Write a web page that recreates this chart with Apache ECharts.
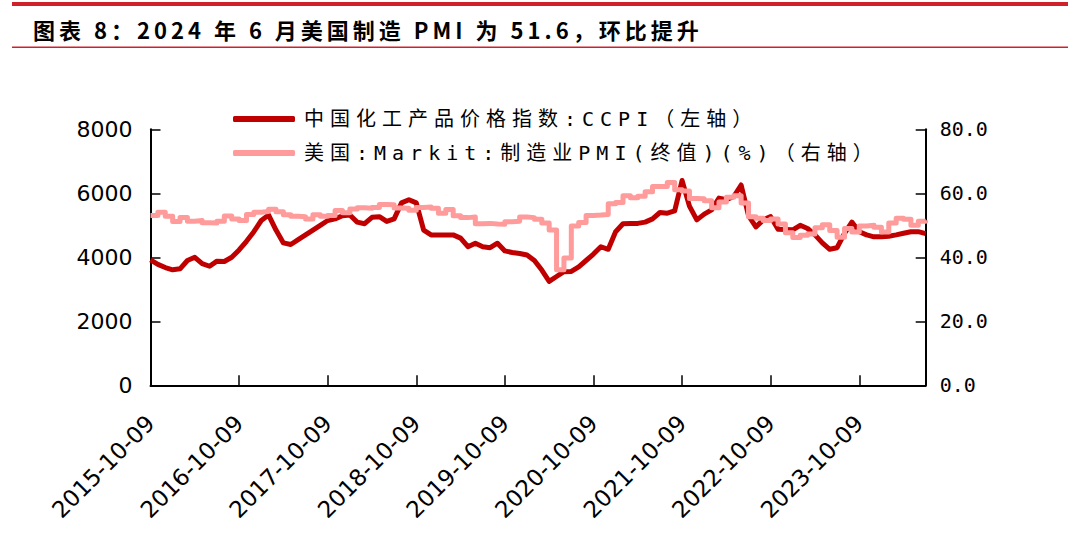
<!DOCTYPE html>
<html>
<head>
<meta charset="utf-8">
<script src="https://cdn.jsdelivr.net/npm/echarts@6/dist/echarts.min.js"></script>
<style>
  html, body { margin: 0; padding: 0; background: #fff; }
  #main { width: 1080px; height: 540px; }
  /* the source chart sets its Chinese text with wide letter spacing */
  #main svg text[fill="#000001"], #main svg text[fill="rgb(0,0,1)"] { letter-spacing: 4px; }
  #main svg text[fill="#010101"], #main svg text[fill="rgb(1,1,1)"] { letter-spacing: 6px; }
</style>
</head>
<body>
<div id="main"></div>
<script>
// monthly axis: 2015-10 .. 2024-07, one category per month (the 9th)
var startYear = 2015, startMonth = 10, monthCount = 106;
var categories = [];
for (var i = 0; i < monthCount; i++) {
  var mm = startMonth - 1 + i;
  var y = startYear + Math.floor(mm / 12);
  var m = (mm % 12) + 1;
  categories.push(y + '-' + (m < 10 ? '0' + m : m) + '-09');
}

// 中国化工产品价格指数 CCPI (left axis)
var ccpi = [
  3920, 3780, 3680, 3610, 3640, 3900, 4000, 3800, 3720, 3880, 3870, 4000,   // 2015-10 .. 2016-09
  4230, 4500, 4800, 5150, 5320, 4850, 4450, 4400, 4550, 4700, 4850, 5000,   // 2016-10 .. 2017-09
  5150, 5200, 5300, 5320, 5100, 5050, 5250, 5270, 5120, 5200, 5700, 5800,   // 2017-10 .. 2018-09
  5700, 4850, 4700, 4700, 4700, 4700, 4600, 4330, 4440, 4330, 4300, 4440,   // 2018-10 .. 2019-09
  4200, 4150, 4120, 4070, 3900, 3600, 3250, 3400, 3550, 3560, 3700, 3900,   // 2019-10 .. 2020-09
  4100, 4330, 4250, 4800, 5050, 5060, 5060, 5100, 5200, 5400, 5380, 5450,   // 2020-10 .. 2021-09
  6400, 5600, 5170, 5350, 5480, 5850, 5800, 5900, 6260, 5300, 4950, 5170,   // 2021-10 .. 2022-09
  5270, 4880, 4870, 4860, 5000, 4900, 4700, 4450, 4250, 4300, 4750, 5100,   // 2022-10 .. 2023-09
  4800, 4700, 4640, 4640, 4660, 4700, 4750, 4800, 4800, 4740                // 2023-10 .. 2024-07
];

// 美国 Markit 制造业PMI 终值 (right axis), plotted from the month it was published
var pmi = [
  53.1, 54.1, 52.8, 51.2, 52.4, 51.3, 51.5, 50.8, 50.7, 51.3, 52.9, 52.0,
  51.5, 53.4, 54.1, 54.3, 55.0, 54.2, 53.3, 52.8, 52.7, 52.0, 53.3, 52.8,
  53.1, 54.6, 53.9, 55.1, 55.5, 55.3, 55.6, 56.5, 56.4, 55.4, 55.3, 54.7,
  55.6, 55.7, 55.3, 53.8, 54.9, 53.0, 52.4, 52.6, 50.5, 50.6, 50.4, 50.3,
  51.1, 51.3, 52.6, 52.4, 51.9, 50.7, 48.5, 36.1, 39.8, 49.8, 50.9, 53.1,
  53.2, 53.4, 56.7, 57.1, 59.2, 58.6, 59.1, 60.5, 62.1, 62.1, 63.4, 61.1,
  60.7, 58.4, 58.3, 57.7, 55.5, 57.3, 58.8, 59.2, 57.0, 52.7, 52.2, 51.5,
  52.0, 50.4, 47.7, 46.2, 46.9, 47.3, 49.2, 50.2, 48.4, 46.3, 49.0, 47.9,
  49.8, 50.0, 49.4, 47.9, 50.7, 52.2, 51.9, 50.0, 51.3, 51.6
];

var leftTicks = { min: 0, max: 8000, interval: 2000 };
var rightTicks = { min: 0, max: 80, interval: 20 };

var seriesNames = ['中国化工产品价格指数:CCPI（左轴）', '美国:Markit:制造业PMI(终值)(%)（右轴）'];
var titleText = '图表 8：2024 年 6 月美国制造 PMI 为 51.6，环比提升';

var monoCjk = "'DejaVu Sans Mono','Noto Sans CJK SC',sans-serif";
var sans = "'DejaVu Sans',sans-serif";

var dom = document.getElementById('main');
var myChart = echarts.init(dom, null, { renderer: 'svg' });

var option = {
  animation: false,
  backgroundColor: '#fff',
  title: {
    text: titleText,
    left: 28,
    top: 13,
    textStyle: {
      fontFamily: "'Noto Sans CJK SC',sans-serif",
      fontSize: 22,
      fontWeight: 'bold',
      color: '#000001'
    }
  },
  graphic: [
    { type: 'rect', shape: { x: 12, y: 2, width: 1056, height: 4 }, style: { fill: '#d0202a' } },
    { type: 'rect', shape: { x: 12, y: 46.5, width: 1056, height: 1.5 }, style: { fill: '#d0202a' } }
  ],
  legend: {
    orient: 'vertical',
    left: 228,
    top: 104,
    itemWidth: 62,
    itemHeight: 6,
    itemGap: 14,
    icon: 'roundRect',
    data: seriesNames,
    textStyle: { fontFamily: monoCjk, fontSize: 20, color: '#010101', padding: [0, 0, 0, 4] }
  },
  grid: {
    left: 150.5,
    right: 154.3,
    top: 129.3,
    bottom: 154.7,
    containLabel: false
  },
  xAxis: {
    type: 'category',
    boundaryGap: false,
    data: categories,
    axisLine: { lineStyle: { color: '#000', width: 2 } },
    axisTick: { inside: true, length: 10, interval: 11, lineStyle: { color: '#000', width: 1.5 } },
    axisLabel: {
      interval: 11,
      rotate: 45,
      margin: 34,
      fontFamily: sans,
      fontSize: 23,
      color: '#000'
    },
    splitLine: { show: false }
  },
  yAxis: [
    {
      type: 'value',
      position: 'left',
      min: leftTicks.min,
      max: leftTicks.max,
      interval: leftTicks.interval,
      axisLine: { show: true, lineStyle: { color: '#000', width: 2 } },
      axisTick: { show: true, inside: true, length: 10, lineStyle: { color: '#000', width: 1.5 } },
      axisLabel: {
        margin: 18,
        fontFamily: sans,
        fontSize: 22,
        color: '#000',
        formatter: function (v) { return String(v); }
      },
      splitLine: { show: false }
    },
    {
      type: 'value',
      position: 'right',
      min: rightTicks.min,
      max: rightTicks.max,
      interval: rightTicks.interval,
      axisLine: { show: true, lineStyle: { color: '#000', width: 2 } },
      axisTick: { show: true, inside: true, length: 10, lineStyle: { color: '#000', width: 1.5 } },
      axisLabel: {
        margin: 14,
        fontFamily: "'DejaVu Sans Mono',monospace",
        fontSize: 20,
        color: '#000',
        formatter: function (v) { return v.toFixed(1); }
      },
      splitLine: { show: false }
    }
  ],
  series: [
    {
      name: seriesNames[0],
      type: 'line',
      yAxisIndex: 0,
      data: ccpi,
      showSymbol: false,
      color: '#c00000',
      lineStyle: { width: 5, color: '#c00000', join: 'round' }
    },
    {
      name: seriesNames[1],
      type: 'line',
      yAxisIndex: 1,
      data: pmi,
      step: 'end',
      showSymbol: false,
      color: '#ff9b9b',
      lineStyle: { width: 5, color: '#ff9b9b', join: 'round' }
    }
  ]
};

myChart.setOption(option);
window.addEventListener('resize', myChart.resize);
</script>
</body>
</html>
